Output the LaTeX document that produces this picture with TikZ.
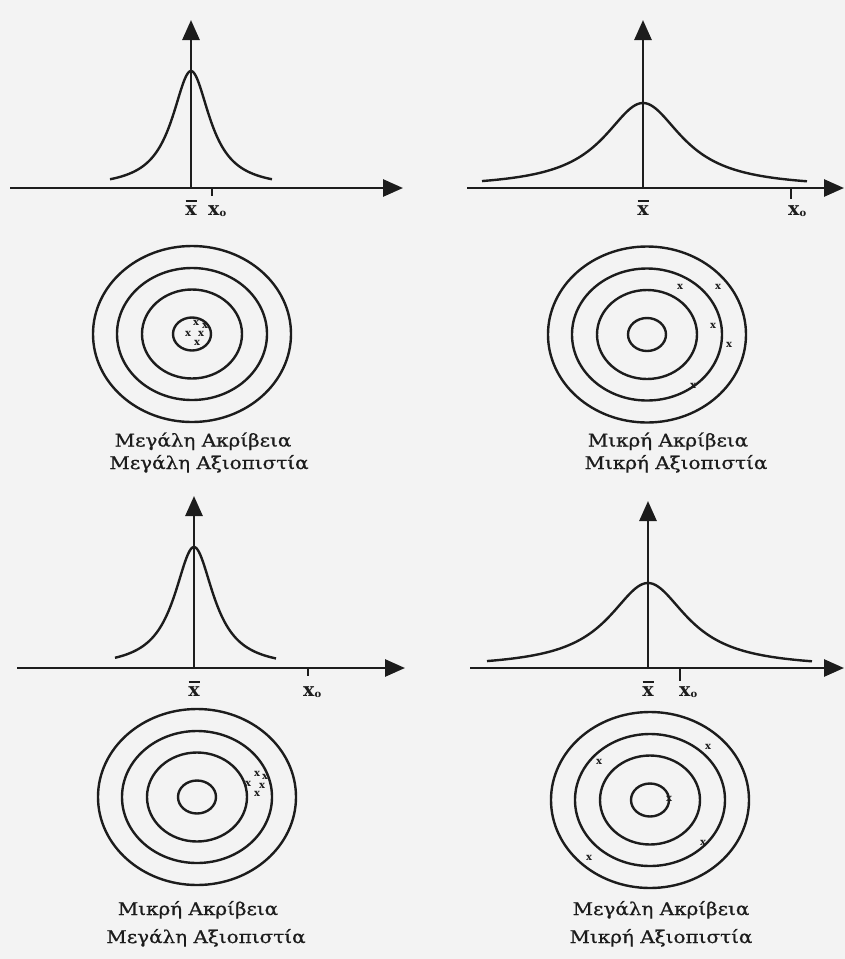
\documentclass[tikz,border=0pt]{standalone}
\usepackage{fontspec}
\setmainfont{DejaVu Serif}
\newfontfamily\grfont[FakeStretch=1.14,FakeBold=0.8]{DejaVu Serif}
\usetikzlibrary{arrows.meta}
\definecolor{ink}{RGB}{28,28,28}
\definecolor{paper}{RGB}{243,243,243}
\begin{document}
\begin{tikzpicture}[x=1pt,y=-1pt,
  axisline/.style={draw=ink,line width=2.7pt,-{Triangle[length=20pt,width=17pt]}},
  curve/.style={draw=ink,line width=2.4pt},
  ring/.style={draw=ink,line width=2.4pt},
  tickmark/.style={draw=ink,line width=2.2pt},
  barline/.style={draw=ink,line width=2pt},
  caption/.style={font=\grfont\fontsize{17.5}{17.5}\selectfont,text=ink,inner sep=0pt,anchor=base},
  axlabel/.style={font=\bfseries\fontsize{19}{19}\selectfont,text=ink,inner sep=0pt},
  hit/.style={font=\bfseries\fontsize{10}{10}\selectfont,text=ink,inner sep=0pt},
]
\useasboundingbox (0,0) rectangle (845,959);
\fill[paper] (0,0) rectangle (845,959);

% ---------- top-left graph ----------
\coordinate (o1) at (191,188);
\coordinate (a1l) at (10,188);
\coordinate (a1r) at (403,188);
\coordinate (a1t) at (191,20);
\coordinate (k1) at (212,188);
\coordinate (k1b) at (212,196);
\draw[axisline] (a1l) -- (a1r);
\draw[axisline] (o1) -- (a1t);
\draw[tickmark] (k1) -- (k1b);
\draw[curve] plot[domain=110:272,samples=120,smooth] (\x,{188-117/(1+((\x-191)/23)^2)});
\node[axlabel,anchor=base] (xb1) at (191,215) {x};
\draw[barline] ([xshift=-5.5pt,yshift=4pt]xb1.north) -- ([xshift=5.5pt,yshift=4pt]xb1.north);
\node[axlabel,anchor=base west] (xo1) at (208,215) {x\raisebox{-1pt}{\fontsize{10}{10}\selectfont o}};

% ---------- top-right graph ----------
\coordinate (o2) at (643,188);
\coordinate (a2l) at (467,188);
\coordinate (a2r) at (844,188);
\coordinate (a2t) at (643,20);
\coordinate (k2) at (791,188);
\coordinate (k2b) at (791,199);
\draw[axisline] (a2l) -- (a2r);
\draw[axisline] (o2) -- (a2t);
\draw[tickmark] (k2) -- (k2b);
\draw[curve] plot[domain=482:807,samples=160,smooth] (\x,{188-85/(1+((\x-643)/48)^2)});
\node[axlabel,anchor=base] (xb2) at (643,215) {x};
\draw[barline] ([xshift=-5.5pt,yshift=4pt]xb2.north) -- ([xshift=5.5pt,yshift=4pt]xb2.north);
\node[axlabel,anchor=base west] (xo2) at (788,215) {x\raisebox{-1pt}{\fontsize{10}{10}\selectfont o}};

% ---------- bottom-left graph ----------
\coordinate (o3) at (194,668);
\coordinate (a3l) at (17,668);
\coordinate (a3r) at (405,668);
\coordinate (a3t) at (194,496);
\coordinate (k3) at (308,668);
\coordinate (k3b) at (308,676);
\draw[axisline] (a3l) -- (a3r);
\draw[axisline] (o3) -- (a3t);
\draw[tickmark] (k3) -- (k3b);
\draw[curve] plot[domain=115:276,samples=120,smooth] (\x,{668-121/(1+((\x-194)/24)^2)});
\node[axlabel,anchor=base] (xb3) at (194,696) {x};
\draw[barline] ([xshift=-5.5pt,yshift=4pt]xb3.north) -- ([xshift=5.5pt,yshift=4pt]xb3.north);
\node[axlabel,anchor=base west] (xo3) at (303,696) {x\raisebox{-1pt}{\fontsize{10}{10}\selectfont o}};

% ---------- bottom-right graph ----------
\coordinate (o4) at (648,668);
\coordinate (a4l) at (470,668);
\coordinate (a4r) at (844,668);
\coordinate (a4t) at (648,501);
\coordinate (k4) at (680,668);
\coordinate (k4b) at (680,681);
\draw[axisline] (a4l) -- (a4r);
\draw[axisline] (o4) -- (a4t);
\draw[tickmark] (k4) -- (k4b);
\draw[curve] plot[domain=487:812,samples=160,smooth] (\x,{668-85/(1+((\x-648)/48)^2)});
\node[axlabel,anchor=base] (xb4) at (648,696) {x};
\draw[barline] ([xshift=-5.5pt,yshift=4pt]xb4.north) -- ([xshift=5.5pt,yshift=4pt]xb4.north);
\node[axlabel,anchor=base west] (xo4) at (679,696) {x\raisebox{-1pt}{\fontsize{10}{10}\selectfont o}};

% ---------- targets ----------
\foreach \c/\cx/\cy in {t1/192/334, t2/647/334.5, t3/197/797, t4/650/800}{
  \coordinate (\c) at (\cx,\cy);
  \draw[ring] (\c) ellipse [x radius=99pt, y radius=88pt];
  \draw[ring] (\c) ellipse [x radius=75pt, y radius=66pt];
  \draw[ring] (\c) ellipse [x radius=50pt, y radius=44.5pt];
  \draw[ring] (\c) ellipse [x radius=19pt, y radius=16.5pt];
}

% hits, top-left
\node[hit] (h11) at (196,323) {x};
\node[hit] (h12) at (205,326) {x};
\node[hit] (h13) at (188,334) {x};
\node[hit] (h14) at (201,334) {x};
\node[hit] (h15) at (197,343) {x};
% hits, top-right
\node[hit] (h21) at (680,287) {x};
\node[hit] (h22) at (718,287) {x};
\node[hit] (h23) at (713,326) {x};
\node[hit] (h24) at (729,345) {x};
\node[hit] (h25) at (693,386) {x};
% hits, bottom-left
\node[hit] (h31) at (257,774) {x};
\node[hit] (h32) at (265,777) {x};
\node[hit] (h33) at (248,784) {x};
\node[hit] (h34) at (262,786) {x};
\node[hit] (h35) at (257,794) {x};
% hits, bottom-right
\node[hit] (h41) at (599,762) {x};
\node[hit] (h42) at (708,747) {x};
\node[hit] (h43) at (669,799) {x};
\node[hit] (h44) at (703,843) {x};
\node[hit] (h45) at (589,858) {x};

% ---------- captions ----------
\node[caption] (c11) at (203,446.5) {Μεγάλη Ακρίβεια};
\node[caption] (c12) at (209,469) {Μεγάλη Αξιοπιστία};
\node[caption] (c21) at (668,446.5) {Μικρή Ακρίβεια};
\node[caption] (c22) at (676,469) {Μικρή Αξιοπιστία};
\node[caption] (c31) at (198,915) {Μικρή Ακρίβεια};
\node[caption] (c32) at (206,943) {Μεγάλη Αξιοπιστία};
\node[caption] (c41) at (661,915) {Μεγάλη Ακρίβεια};
\node[caption] (c42) at (661,943) {Μικρή Αξιοπιστία};
\end{tikzpicture}
\end{document}
